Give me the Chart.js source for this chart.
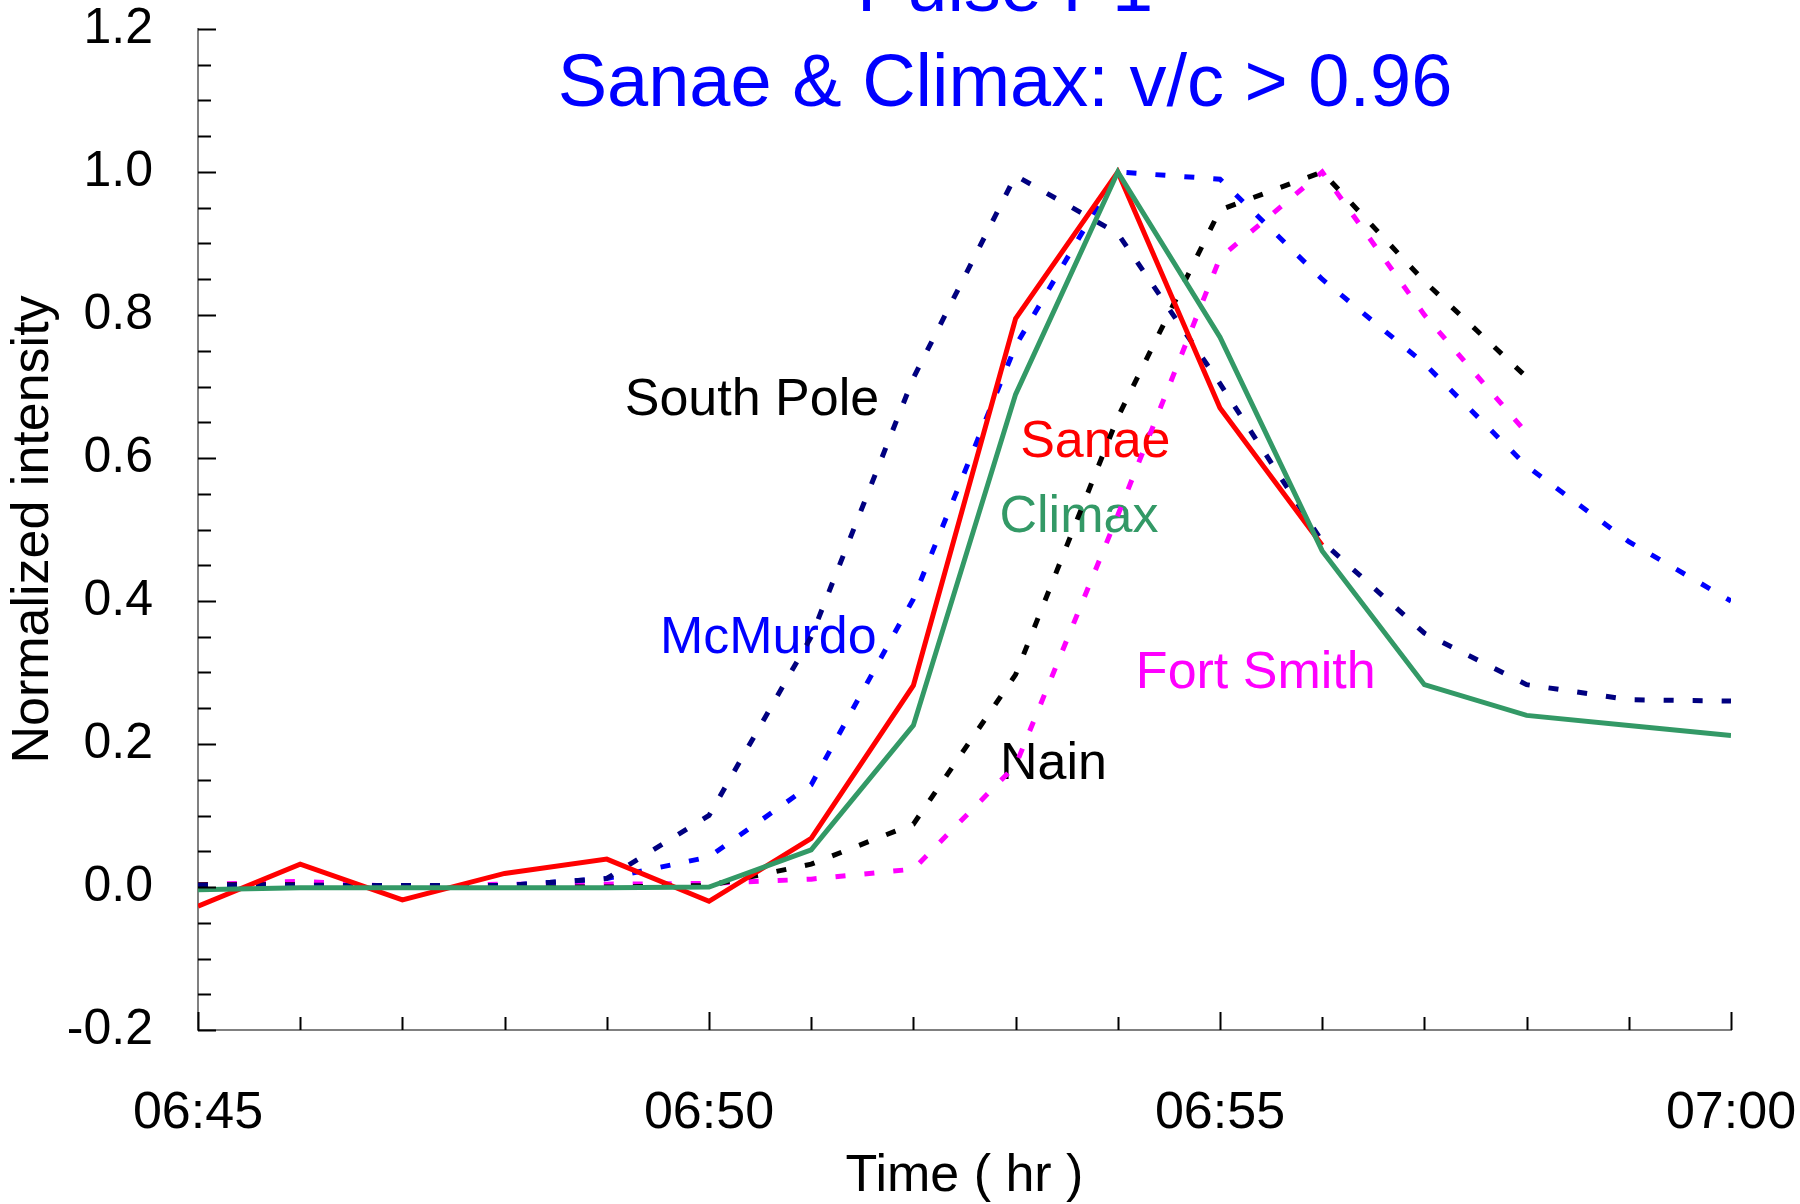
<!DOCTYPE html>
<html>
<head>
<meta charset="utf-8">
<script src="https://cdn.jsdelivr.net/npm/chart.js@4.4.0/dist/chart.umd.min.js"></script>
<style>
  html, body { margin: 0; padding: 0; background: #fff; }
  canvas { display: block; }
</style>
</head>
<body>
<canvas id="pulseChart" width="1800" height="1204"></canvas>
<script>
// minutes after 06:45, one sample per minute
var minutes = [0, 1, 2, 3, 4, 5, 6, 7, 8, 9, 10, 11, 12, 13, 14, 15];
var xTickLabels = ['06:45', '06:50', '06:55', '07:00'];

var climax    = [-0.004, -0.001, -0.001, -0.001, -0.001, 0.000, 0.052, 0.226, 0.689, 1.000, 0.769, 0.470, 0.283, 0.240, 0.226, 0.212];
var sanae     = [-0.027, 0.032, -0.018, 0.019, 0.039, -0.020, 0.068, 0.282, 0.795, 1.000, 0.670, 0.478];
var southPole = [0.002, 0.002, 0.002, 0.002, 0.012, 0.100, 0.350, 0.712, 0.995, 0.914, 0.704, 0.483, 0.355, 0.283, 0.262, 0.260];
var mcMurdo   = [0.000, 0.000, 0.000, 0.002, 0.012, 0.042, 0.143, 0.403, 0.757, 1.000, 0.990, 0.850, 0.732, 0.589, 0.483, 0.400];
var nain      = [0.003, 0.003, 0.000, 0.000, 0.000, 0.002, 0.032, 0.088, 0.297, 0.657, 0.947, 1.000, 0.847, 0.713];
var fortSmith = [0.003, 0.008, 0.000, 0.004, 0.004, 0.005, 0.011, 0.025, 0.170, 0.520, 0.880, 1.000, 0.800, 0.635];

// station names written inside the plot, [text, minute, value, colour]
var stationLabels = [
  ['South Pole', 5.42, 0.680, '#000000'],
  ['McMurdo',    5.58, 0.348, '#0000ff'],
  ['Sanae',      8.78, 0.621, '#ff0000'],
  ['Climax',     8.62, 0.516, '#339966'],
  ['Fort Smith', 10.35, 0.298, '#ff00ff'],
  ['Nain',       8.37, 0.171, '#000000']
];
var titleLines = ['Pulse P1', 'Sanae & Climax: v/c > 0.96'];

var FONT = '"Liberation Sans", Arial, sans-serif';

function pts(arr) {
  return arr.map(function (v, i) { return { x: minutes[i], y: v }; });
}

function dotted(label, data, colour) {
  return {
    label: label, data: pts(data), borderColor: colour, borderWidth: 5,
    borderDash: [10, 19], pointRadius: 0, fill: false, tension: 0
  };
}

// labels under the lines, title and inward tick marks on top
var decorations = {
  id: 'decorations',
  beforeDatasetsDraw: function (chart) {
    var ctx = chart.ctx, xs = chart.scales.x, ys = chart.scales.y;
    ctx.save();
    ctx.font = '52px ' + FONT;
    ctx.textAlign = 'center';
    ctx.textBaseline = 'middle';
    stationLabels.forEach(function (l) {
      ctx.fillStyle = l[3];
      ctx.fillText(l[0], xs.getPixelForValue(l[1]), ys.getPixelForValue(l[2]));
    });
    ctx.restore();
  },
  afterDraw: function (chart) {
    var ctx = chart.ctx, xs = chart.scales.x, ys = chart.scales.y;
    var area = chart.chartArea;
    ctx.save();
    ctx.strokeStyle = '#000';
    ctx.lineWidth = 2;
    ctx.beginPath();
    for (var m = 0; m <= 15; m++) {
      var px = Math.round(xs.getPixelForValue(m)) + 0.5;
      var len = (m % 5 === 0) ? 18 : 13;
      ctx.moveTo(px, area.bottom);
      ctx.lineTo(px, area.bottom - len);
    }
    for (var k = 0; k <= 28; k++) {
      var v = -0.2 + k * 0.05;
      var py = Math.round(ys.getPixelForValue(v)) + 0.5;
      var l = (k % 4 === 0) ? 18 : 13;
      ctx.moveTo(area.left, py);
      ctx.lineTo(area.left + l, py);
    }
    ctx.stroke();

    ctx.fillStyle = '#0000ff';
    ctx.font = '74px ' + FONT;
    ctx.textAlign = 'center';
    ctx.textBaseline = 'alphabetic';
    ctx.fillText(titleLines[0], 1005, 11);
    ctx.fillText(titleLines[1], 1005, 106);
    ctx.restore();
  }
};

var ctx = document.getElementById('pulseChart');
var pulseChart = new Chart(ctx, {
  type: 'line',
  data: {
    datasets: [
      { label: 'Climax', data: pts(climax), borderColor: '#339966', borderWidth: 5, pointRadius: 0, fill: false },
      { label: 'Sanae', data: pts(sanae), borderColor: '#ff0000', borderWidth: 5, pointRadius: 0, fill: false },
      dotted('South Pole', southPole, '#000080'),
      dotted('McMurdo', mcMurdo, '#0000ff'),
      dotted('Nain', nain, '#000000'),
      dotted('Fort Smith', fortSmith, '#ff00ff')
    ]
  },
  options: {
    responsive: false,
    animation: false,
    layout: { padding: { top: 29, right: 69, left: 0, bottom: 0 } },
    plugins: { legend: { display: false }, title: { display: false }, tooltip: { enabled: false } },
    scales: {
      x: {
        type: 'linear', min: 0, max: 15,
        grid: { display: false, drawTicks: false },
        border: { display: true, color: '#808080', width: 2 },
        ticks: {
          stepSize: 5, padding: 58, autoSkip: false, maxRotation: 0, color: '#000',
          font: { family: FONT, size: 52, lineHeight: 1 },
          callback: function (v) { return xTickLabels[v / 5]; }
        },
        title: { display: true, text: 'Time ( hr )', color: '#000', padding: { top: 0, bottom: 1 },
                 font: { family: FONT, size: 52, lineHeight: 1 } },
        afterFit: function (s) { s.height = 174; s.paddingLeft = 0; s.paddingRight = 0; }
      },
      y: {
        min: -0.2, max: 1.2,
        grid: { display: false, drawTicks: false },
        border: { display: true, color: '#808080', width: 2 },
        ticks: {
          stepSize: 0.2, padding: 45, color: '#000',
          font: { family: FONT, size: 50, lineHeight: 1 },
          callback: function (v) { return (Math.round(v * 10) / 10).toFixed(1); }
        },
        title: { display: true, text: 'Normalized intensity', color: '#000', padding: { top: 8, bottom: 0 },
                 font: { family: FONT, size: 52, lineHeight: 1 } },
        afterFit: function (s) { s.width = 198; s.paddingTop = 0; s.paddingBottom = 0; }
      }
    }
  },
  plugins: [decorations]
});
</script>
</body>
</html>
